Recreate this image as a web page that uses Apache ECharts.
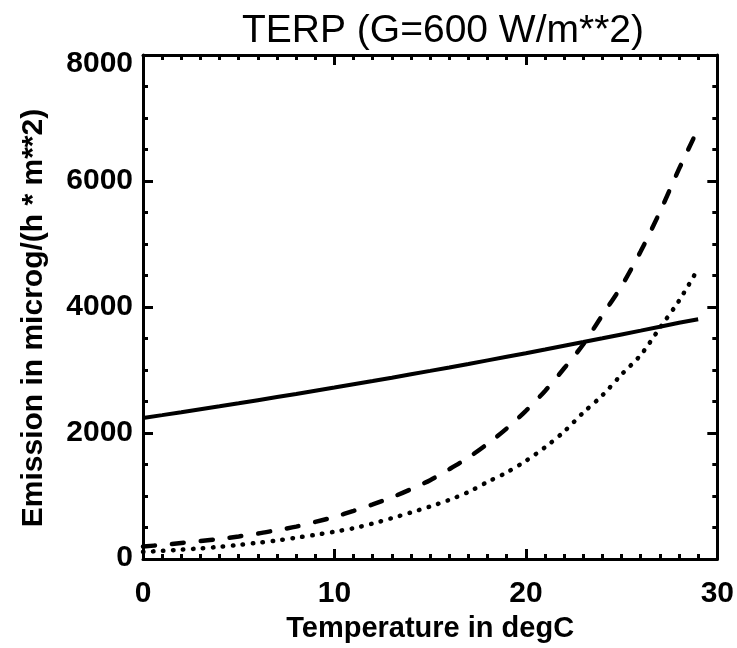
<!DOCTYPE html>
<html>
<head>
<meta charset="utf-8">
<script src="https://cdn.jsdelivr.net/npm/echarts@6/dist/echarts.min.js"></script>
<style>
html,body{margin:0;padding:0;background:#fff;}
#chart{width:737px;height:648px;}
</style>
</head>
<body>
<div id="chart"></div>
<script>
const titleText = 'TERP (G=600 W/m**2)';
const xName = 'Temperature in degC';
const yName = 'Emission in microg/(h * m**2)';
const temps = [0,1,2,3,4,5,6,7,8,9,10,11,12,13,14,15,16,17,18,19,20,21,22,23,24,25,26,27,28,29];
const solidVals = [2240,2285,2331,2378,2425,2473,2522,2571,2620,2671,2722,2774,2826,2879,2933,2987,3042,3097,3154,3211,3268,3326,3385,3444,3504,3565,3626,3688,3751,3805];
const dashedVals = [200,225,255,285,320,360,405,460,515,590,670,765,868,980,1110,1253,1427,1613,1830,2074,2354,2669,3028,3410,3874,4335,4885,5510,6192,6830];
const dottedVals = [115,130,150,170,195,225,260,295,340,385,435,490,565,650,740,835,940,1065,1225,1375,1560,1775,2025,2325,2600,2930,3240,3670,4100,4610];
const xTicks = [0,10,20,30];
const yTicks = [0,2000,4000,6000,8000];

const chart = echarts.init(document.getElementById('chart'), null, {renderer:'canvas'});
const FONT = 'Liberation Sans';
function pairs(vals){ return temps.map((t,i)=>[t, vals[i]]); }
const axisLineStyle = {color:'#000', width:3};
const tickStyle = {color:'#000', width:3};
const yMin = yTicks[0], yMax = yTicks[yTicks.length-1];
const option = {
  backgroundColor:'#fff',
  animation:false,
  title:{
    text:titleText, left:438, top:7, textAlign:'center',
    textStyle:{fontFamily:FONT, fontWeight:'normal', fontSize:39, color:'#000'}
  },
  grid:{left:143, right:18, top:55, bottom:85, containLabel:false},
  xAxis:[{
    type:'value', min:xTicks[0], max:xTicks[xTicks.length-1], interval:10, position:'bottom',
    name:xName, nameLocation:'middle', nameGap:53,
    nameTextStyle:{fontFamily:FONT, fontWeight:'bold', fontSize:29, color:'#000'},
    axisLine:{show:true, onZero:false, lineStyle:axisLineStyle},
    axisTick:{show:true, inside:true, length:10, lineStyle:tickStyle},
    minorTick:{show:true, splitNumber:10, length:5, lineStyle:tickStyle},
    splitLine:{show:false},
    axisLabel:{margin:20, fontFamily:FONT, fontWeight:'bold', fontSize:30, color:'#000',
      formatter:(v)=>String(v)}
  },{
    type:'value', min:xTicks[0], max:xTicks[xTicks.length-1], interval:10, position:'top',
    axisLine:{show:true, onZero:false, lineStyle:axisLineStyle},
    axisTick:{show:true, inside:true, length:10, lineStyle:tickStyle},
    minorTick:{show:true, splitNumber:10, length:5, lineStyle:tickStyle},
    splitLine:{show:false}, axisLabel:{show:false}
  }],
  yAxis:[{
    type:'value', min:yMin, max:yMax, interval:2000, position:'left',
    name:yName, nameLocation:'middle', nameGap:94, nameRotate:90,
    nameTextStyle:{fontFamily:FONT, fontWeight:'bold', fontSize:30, color:'#000', padding:[0,22,0,0]},
    axisLine:{show:true, onZero:false, lineStyle:axisLineStyle},
    axisTick:{show:true, inside:true, length:10, lineStyle:tickStyle},
    minorTick:{show:true, splitNumber:4, length:5, lineStyle:tickStyle},
    splitLine:{show:false},
    axisLabel:{margin:10, fontFamily:FONT, fontWeight:'bold', fontSize:30, color:'#000',
      formatter:(v)=> v===yMax ? '{mx|'+v+'}' : (v===yMin ? '{mn|'+v+'}' : '{n|'+v+'}'),
      rich:{
        n:{fontFamily:FONT, fontWeight:'bold', fontSize:30, color:'#000'},
        mx:{fontFamily:FONT, fontWeight:'bold', fontSize:30, color:'#000', padding:[18,0,0,0]},
        mn:{fontFamily:FONT, fontWeight:'bold', fontSize:30, color:'#000', padding:[0,0,3,0]}
      }}
  },{
    type:'value', min:yMin, max:yMax, interval:2000, position:'right',
    axisLine:{show:true, onZero:false, lineStyle:axisLineStyle},
    axisTick:{show:true, inside:true, length:10, lineStyle:tickStyle},
    minorTick:{show:true, splitNumber:4, length:5, lineStyle:tickStyle},
    splitLine:{show:false}, axisLabel:{show:false}
  }],
  series:[
    {name:'solid', type:'line', xAxisIndex:0, yAxisIndex:0, data:pairs(solidVals), showSymbol:false, symbol:'none',
     lineStyle:{color:'#000', width:4, type:'solid'}},
    {name:'dashed', type:'line', xAxisIndex:0, yAxisIndex:0, data:pairs(dashedVals), showSymbol:false, symbol:'none', smooth:0.3,
     lineStyle:{color:'#000', width:4.5, type:[12,17], cap:'round'}},
    {name:'dotted', type:'line', xAxisIndex:0, yAxisIndex:0, data:pairs(dottedVals), showSymbol:false, symbol:'none', smooth:0.3,
     lineStyle:{color:'#000', width:4.5, type:[0.5,9.5], cap:'round'}}
  ]
};
chart.setOption(option);
</script>
</body>
</html>
